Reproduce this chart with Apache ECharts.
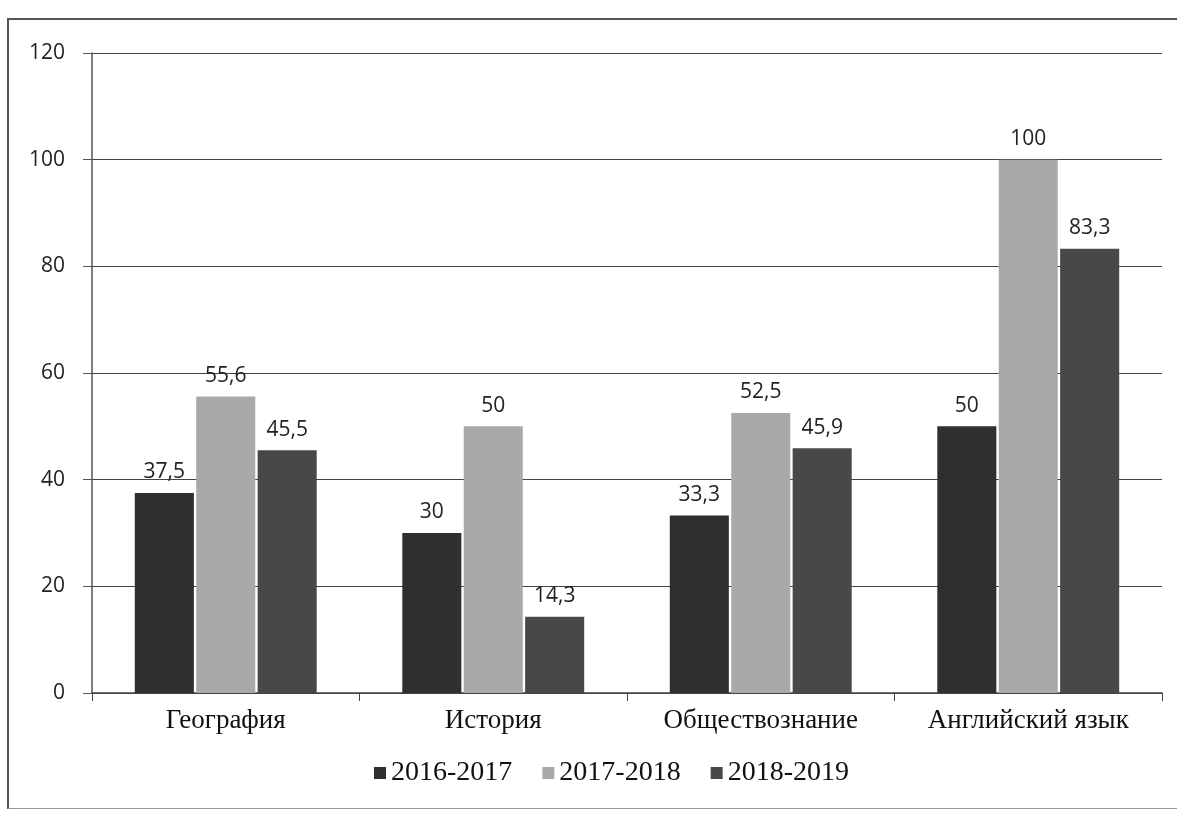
<!DOCTYPE html>
<html>
<head>
<meta charset="utf-8">
<script src="https://cdn.jsdelivr.net/npm/echarts@6/dist/echarts.min.js"></script>
<style>
html, body { margin: 0; padding: 0; background: #fff; }
#frame {
    position: absolute;
    left: 7px; top: 18px;
    width: 1180px; height: 788px;
    border-left: 2px solid #555;
    border-top: 2px solid #555;
    border-bottom: 1px solid #999;
}
#chart { position: absolute; left: 0; top: 0; width: 1177px; height: 814px; }
</style>
</head>
<body>
<div id="frame"></div>
<div id="chart"></div>
<script>
// данные диаграммы
var subjects = ['География', 'История', 'Обществознание', 'Английский язык'];
var years = ['2016-2017', '2017-2018', '2018-2019'];
var data2016 = [37.5, 30, 33.3, 50];
var data2017 = [55.6, 50, 52.5, 100];
var data2018 = [45.5, 14.3, 45.9, 83.3];
var colors = ['#2f2f2f', '#a9a9a9', '#484848'];

var valueLabel = {
    show: true,
    position: 'top',
    distance: 10,
    color: '#222',
    fontSize: 21,
    fontFamily: 'Open Sans',
    formatter: function (p) {
        return String(p.value).replace('.', ',');
    }
};

function makeSeries(name, values, idx) {
    return {
        name: name,
        type: 'bar',
        data: values,
        barGap: '4%',
        barCategoryGap: '32%',
        itemStyle: { color: colors[idx] },
        label: valueLabel
    };
}

var chart = echarts.init(document.getElementById('chart'));
chart.setOption({
    animation: false,
    grid: { left: 92, right: 15, top: 53, bottom: 121 },
    legend: {
        data: years,
        bottom: 22,
        left: 369,
        itemWidth: 12,
        itemHeight: 12,
        itemGap: 30,
        icon: 'rect',
        textStyle: { fontFamily: 'Liberation Serif', fontSize: 28, color: '#111' }
    },
    xAxis: {
        type: 'category',
        data: subjects,
        axisLine: { lineStyle: { color: '#444', width: 1.5 } },
        axisTick: { show: true, length: 8, lineStyle: { color: '#444' } },
        axisLabel: {
            fontFamily: 'Liberation Serif', fontSize: 27, color: '#111', margin: 14
        }
    },
    yAxis: {
        type: 'value',
        min: 0, max: 120, interval: 20,
        axisLine: { show: true, lineStyle: { color: '#555', width: 1.5 } },
        axisTick: { show: true, length: 9, lineStyle: { color: '#555' } },
        axisLabel: { fontFamily: 'Open Sans', fontSize: 21, color: '#222', margin: 27 },
        splitLine: { lineStyle: { color: '#444', width: 1.2 } }
    },
    series: [
        makeSeries(years[0], data2016, 0),
        makeSeries(years[1], data2017, 1),
        makeSeries(years[2], data2018, 2)
    ]
});
</script>
</body>
</html>
